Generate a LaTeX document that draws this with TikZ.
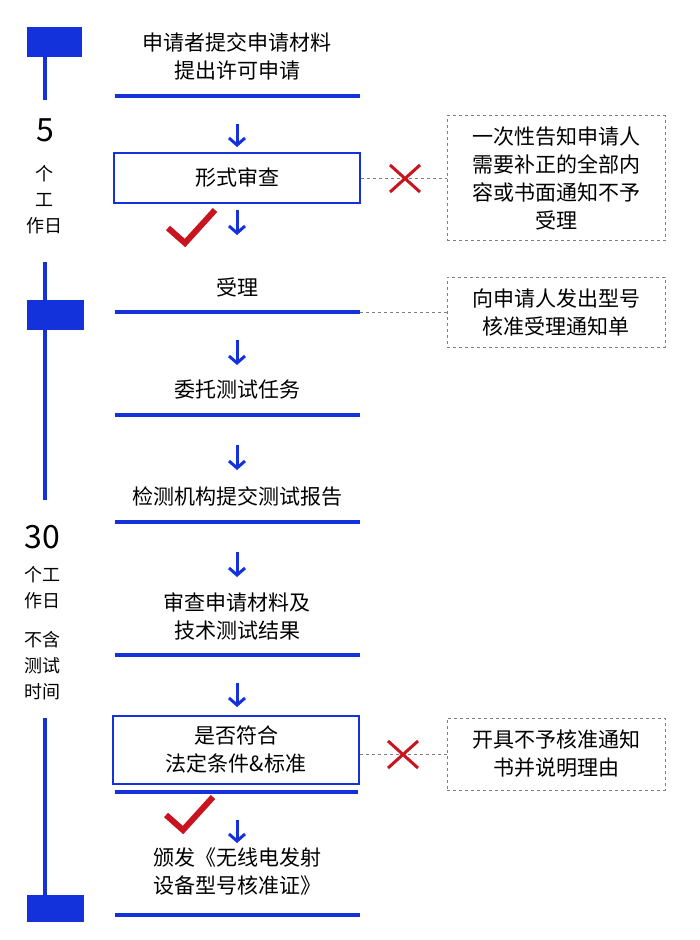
\documentclass[tikz,border=0pt]{standalone}
\usepackage{fontspec}
\setmainfont{Noto Sans CJK SC}
\usetikzlibrary{arrows.meta}
\definecolor{bl}{RGB}{20,50,220}
\definecolor{rd}{RGB}{200,20,30}
\begin{document}
\begin{tikzpicture}[x=1pt,y=-1pt,
  txt/.style={font=\fontsize{21}{28}\selectfont,align=center,inner sep=0},
  bar/.style={bl,line width=4pt},
  tl/.style={bl,line width=4pt},
  blk/.style={fill=bl,draw=none},
  arr/.style={bl,line width=3pt,-{Straight Barb[length=7pt,width=16pt,line width=3pt]}},
  sbox/.style={draw=bl,line width=2.5pt,fill=white},
  dbox/.style={draw=gray,dashed,line width=0.8pt},
  dl/.style={gray,dashed,line width=0.8pt},
  xm/.style={rd,line width=3pt},
  ck/.style={rd,line width=6pt,line join=miter}]
\useasboundingbox[fill=white] (0,0) rectangle (700,940);
% timeline
\fill[blk] (27,27) rectangle (82,57);
\draw[tl] (45,57) -- (45,100);
\node[txt,font=\fontsize{32}{32}\selectfont] (n5) at (45,130) {5};
\node[txt,font=\fontsize{18}{26}\selectfont] (t1) at (45,200) {个\\工\\作日};
\draw[tl] (45,262) -- (45,300);
\fill[blk] (27,300) rectangle (84,330);
\draw[tl] (45,330) -- (45,500);
\node[txt,font=\fontsize{32}{32}\selectfont] (n30) at (42,537) {30};
\node[txt,font=\fontsize{18}{26}\selectfont] (t2) at (42,588) {个工\\作日};
\node[txt,font=\fontsize{18}{26}\selectfont] (t3) at (42,666) {不含\\测试\\时间};
\draw[tl] (45,718) -- (45,895);
\fill[blk] (27,895) rectangle (84,922);
% main column
\node[txt] (a) at (237,56) {申请者提交申请材料\\提出许可申请};
\draw[bar] (115,96) -- (360,96);
\node[sbox,minimum width=246,minimum height=50,txt] (b) at (237,178) {形式审查};
\node[txt] (c) at (237,287) {受理};
\draw[bar] (115,312) -- (360,312);
\node[txt] (d) at (237,390) {委托测试任务};
\draw[bar] (115,415) -- (360,415);
\node[txt] (e) at (237,497) {检测机构提交测试报告};
\draw[bar] (115,522) -- (360,522);
\node[txt] (f) at (237,616) {审查申请材料及\\技术测试结果};
\draw[bar] (115,655) -- (360,655);
\node[sbox,minimum width=246,minimum height=68,txt] (g) at (236,750) {是否符合\\法定条件\&标准};
\draw[bar] (115,792) -- (358,792);
\node[txt] (h) at (237,872) {颁发《无线电发射\\设备型号核准证》};
\draw[bar] (115,915) -- (360,915);
% arrows
\draw[arr] (237,124) -- (237,147);
\draw[arr] (237,210) -- (237,235);
\draw[arr] (237,340) -- (237,365);
\draw[arr] (237,445) -- (237,470);
\draw[arr] (237,552) -- (237,577);
\draw[arr] (237,683) -- (237,707);
\draw[arr] (237,820) -- (237,843);
% checks
\draw[ck] (168,228) -- (185,243) -- (215,210);
\draw[ck] (166,815) -- (183,830) -- (213,797);
% right boxes
\node[dbox,minimum width=218,minimum height=125,txt] (r1) at (556,178) {一次性告知申请人\\需要补正的全部内\\容或书面通知不予\\受理};
\node[dbox,minimum width=218,minimum height=70,txt] (r2) at (556,312) {向申请人发出型号\\核准受理通知单};
\node[dbox,minimum width=218,minimum height=72,txt] (r3) at (556,754) {开具不予核准通知\\书并说明理由};
\draw[dl] (b.east) -- (r1.west);
\draw[dl] (360,312) -- (r2.west);
\draw[dl] (g.east |- r3.west) -- (r3.west);
\draw[xm] (390,165) -- (420,192) (390,192) -- (420,165);
\draw[xm] (388,741) -- (418,768) (388,768) -- (418,741);
\end{tikzpicture}
\end{document}
